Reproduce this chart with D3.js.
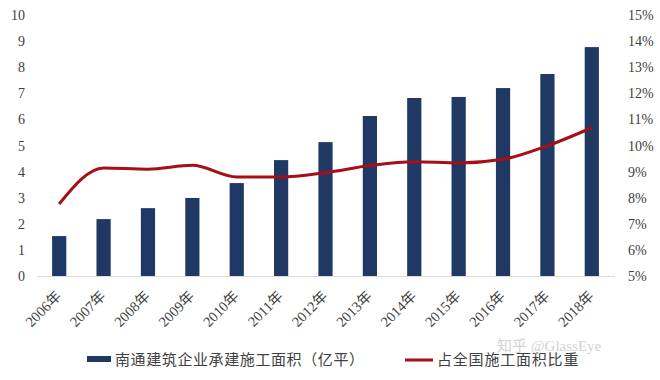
<!DOCTYPE html>
<html>
<head>
<meta charset="utf-8">
<script src="https://cdn.jsdelivr.net/npm/d3@7"></script>
<style>
  body { margin: 0; background: #fff; }
  text { font-family: "Liberation Serif", "Noto Sans CJK SC", serif; fill: #404040; }
</style>
</head>
<body>
<script>
var years = ["2006年", "2007年", "2008年", "2009年", "2010年", "2011年", "2012年",
  "2013年", "2014年", "2015年", "2016年", "2017年", "2018年"];
var area = [1.53, 2.18, 2.6, 2.99, 3.56, 4.44, 5.13, 6.13, 6.82, 6.86, 7.2, 7.74, 8.77];
var share = [7.76, 9.14, 9.09, 9.24, 8.79, 8.79, 8.96, 9.23, 9.38, 9.33, 9.47, 9.99, 10.68];
var leftTicks = [0, 1, 2, 3, 4, 5, 6, 7, 8, 9, 10];
var rightTicks = [5, 6, 7, 8, 9, 10, 11, 12, 13, 14, 15];
var legendNames = ["南通建筑企业承建施工面积（亿平）", "占全国施工面积比重"];

var svg = d3.select("body")
  .append("svg")
  .attr("width", 660)
  .attr("height", 380);

var x = d3.scaleBand()
  .domain(years)
  .range([37, 614])
  .paddingInner(0.68)
  .paddingOuter(0.34);

var yL = d3.scaleLinear().domain([0, 10]).range([276, 15]);
var yR = d3.scaleLinear().domain([5, 15]).range([276, 15]);

// left axis labels
svg.selectAll(".lt")
  .data(leftTicks)
  .enter()
  .append("text")
  .attr("x", 25)
  .attr("y", function(d) { return yL(d) + 5; })
  .attr("text-anchor", "end")
  .attr("font-size", 14)
  .text(function(d) { return d; });

// right axis labels
svg.selectAll(".rt")
  .data(rightTicks)
  .enter()
  .append("text")
  .attr("x", 628)
  .attr("y", function(d) { return yR(d) + 5; })
  .attr("font-size", 14)
  .text(function(d) { return d + "%"; });

// bars
svg.selectAll(".bar")
  .data(area)
  .enter()
  .append("rect")
  .attr("x", function(d, i) { return x(years[i]); })
  .attr("y", function(d) { return yL(d); })
  .attr("width", x.bandwidth())
  .attr("height", function(d) { return yL(0) - yL(d); })
  .attr("fill", "#1f3864");

// baseline
svg.append("line")
  .attr("x1", 37).attr("x2", 615)
  .attr("y1", 276.5).attr("y2", 276.5)
  .attr("stroke", "#d9d9d9");

// share line
var line = d3.line()
  .x(function(d, i) { return x(years[i]) + x.bandwidth() / 2; })
  .y(function(d) { return yR(d); })
  .curve(d3.curveMonotoneX);

svg.append("path")
  .datum(share)
  .attr("d", line)
  .attr("fill", "none")
  .attr("stroke", "#a50f15")
  .attr("stroke-width", 3);

// x labels
svg.selectAll(".xl")
  .data(years)
  .enter()
  .append("text")
  .attr("transform", function(d) {
    return "translate(" + (x(d) + x.bandwidth() / 2 + 3) + ",297) rotate(-45)";
  })
  .attr("text-anchor", "end")
  .attr("font-size", 14.5)
  .text(function(d) { return d; });

// legend
svg.append("rect")
  .attr("x", 87).attr("y", 356)
  .attr("width", 24).attr("height", 6)
  .attr("fill", "#1f3864");
svg.append("text")
  .attr("x", 115).attr("y", 365)
  .attr("font-size", 15)
  .attr("letter-spacing", 0.6)
  .text(legendNames[0]);

svg.append("line")
  .attr("x1", 405).attr("x2", 433)
  .attr("y1", 360).attr("y2", 360)
  .attr("stroke", "#a50f15")
  .attr("stroke-width", 3);
svg.append("text")
  .attr("x", 437).attr("y", 365)
  .attr("font-size", 15)
  .attr("letter-spacing", 0.8)
  .text(legendNames[1]);

// watermark
svg.append("text")
  .attr("x", 497).attr("y", 351)
  .attr("font-size", 15)
  .attr("font-family", "Noto Sans CJK SC, sans-serif")
  .style("fill", "#c8c8c8")
  .attr("opacity", 0.8)
  .text("知乎 @GlassEye");
</script>
</body>
</html>
